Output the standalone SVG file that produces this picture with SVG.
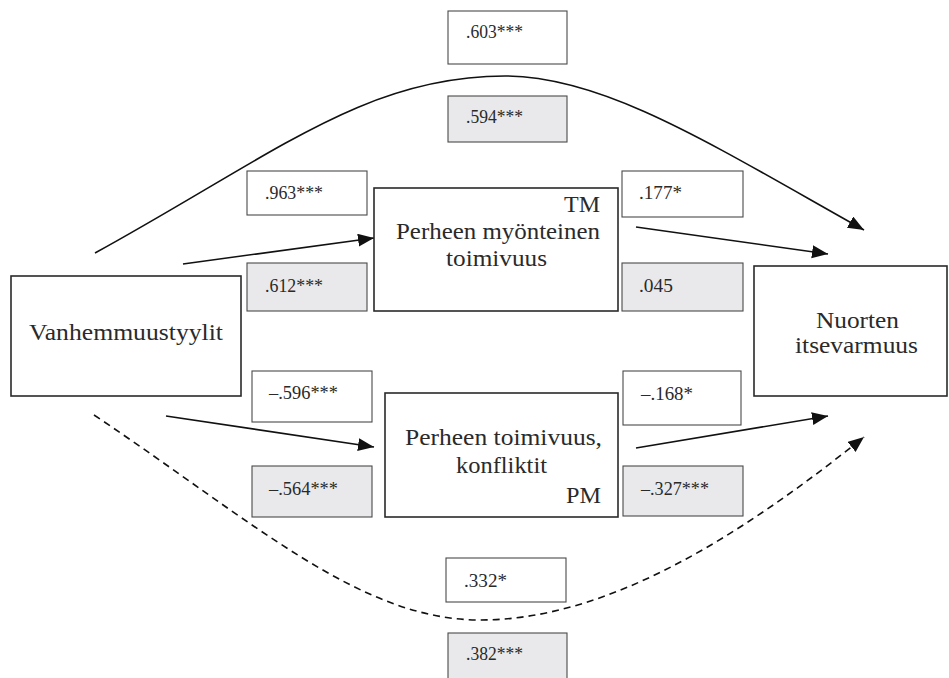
<svg xmlns="http://www.w3.org/2000/svg" width="949" height="678" viewBox="0 0 949 678">
<style>
.node{fill:#fff;stroke:#2a2a2a;stroke-width:1.6}
.lbl{fill:#fff;stroke:#4a4a4a;stroke-width:1.1}
.lbl.g{fill:#e9e9eb}
.t{font-family:"Liberation Serif","Times New Roman",serif;font-size:23px;fill:#2a2a2a}
.s{font-family:"Liberation Serif","Times New Roman",serif;font-size:18.5px;fill:#2a2a2a}
.c{fill:none;stroke:#111;stroke-width:1.6}
.d{stroke-dasharray:7 5}
</style>
<defs>
<marker id="ah" markerUnits="userSpaceOnUse" markerWidth="18" markerHeight="14" refX="16" refY="6.5" orient="auto">
<path d="M0,0 L16,6.5 L0,13 z" fill="#111"/>
</marker>
</defs>
<rect width="949" height="678" fill="#fff"/>
<g id="connectors">
<path class="c" d="M95,253 C275,154 365,76 505,76 C605,76 714,146 864,230" marker-end="url(#ah)"/>
<path class="c d" d="M94,415 C254,522 360,620 480,620 C610,620 744,533 864,437" marker-end="url(#ah)"/>
<path class="c" d="M183,264 L374,238" marker-end="url(#ah)"/>
<path class="c" d="M636,227 L828,254" marker-end="url(#ah)"/>
<path class="c" d="M166,416 L374,447" marker-end="url(#ah)"/>
<path class="c" d="M636,448 L828,416" marker-end="url(#ah)"/>
</g>
<g id="labels">
<rect class="lbl" x="448" y="11" width="119" height="53"/>
<text class="s" x="466" y="38" textLength="57" lengthAdjust="spacingAndGlyphs">.603***</text>
<rect class="lbl g" x="448" y="96" width="119" height="46"/>
<text class="s" x="466" y="123" textLength="57" lengthAdjust="spacingAndGlyphs">.594***</text>
<rect class="lbl" x="247" y="171" width="120" height="44"/>
<text class="s" x="265" y="199" textLength="58" lengthAdjust="spacingAndGlyphs">.963***</text>
<rect class="lbl g" x="247" y="263" width="120" height="48"/>
<text class="s" x="265" y="292" textLength="58" lengthAdjust="spacingAndGlyphs">.612***</text>
<rect class="lbl" x="622" y="171" width="121" height="46"/>
<text class="s" x="639" y="199" textLength="43" lengthAdjust="spacingAndGlyphs">.177*</text>
<rect class="lbl g" x="622" y="263" width="121" height="48"/>
<text class="s" x="639" y="292" textLength="34" lengthAdjust="spacingAndGlyphs">.045</text>
<rect class="lbl" x="252" y="371" width="120" height="51"/>
<text class="s" x="269" y="399" textLength="69" lengthAdjust="spacingAndGlyphs">–.596***</text>
<rect class="lbl g" x="252" y="466" width="120" height="51"/>
<text class="s" x="269" y="495" textLength="69" lengthAdjust="spacingAndGlyphs">–.564***</text>
<rect class="lbl" x="623" y="371" width="118" height="54"/>
<text class="s" x="641" y="400" textLength="52" lengthAdjust="spacingAndGlyphs">–.168*</text>
<rect class="lbl g" x="623" y="466" width="120" height="50"/>
<text class="s" x="641" y="495" textLength="68" lengthAdjust="spacingAndGlyphs">–.327***</text>
<rect class="lbl" x="446" y="558" width="120" height="44"/>
<text class="s" x="464" y="587" textLength="43" lengthAdjust="spacingAndGlyphs">.332*</text>
<rect class="lbl g" x="448" y="633" width="119" height="60"/>
<text class="s" x="466" y="660" textLength="57" lengthAdjust="spacingAndGlyphs">.382***</text>
</g>
<g id="vanhemmuustyylit">
<rect class="node" x="11" y="276" width="230" height="120"/>
<text class="t" x="29" y="340" textLength="194" lengthAdjust="spacingAndGlyphs">Vanhemmuustyylit</text>
</g>
<g id="tm">
<rect class="node" x="374" y="188" width="244" height="123"/>
<text class="t" x="564" y="212" textLength="36" lengthAdjust="spacingAndGlyphs">TM</text>
<text class="t" x="396" y="239" textLength="204" lengthAdjust="spacingAndGlyphs">Perheen myönteinen</text>
<text class="t" x="446" y="266" textLength="101" lengthAdjust="spacingAndGlyphs">toimivuus</text>
</g>
<g id="pm">
<rect class="node" x="385" y="393" width="233" height="124"/>
<text class="t" x="405" y="445" textLength="197" lengthAdjust="spacingAndGlyphs">Perheen toimivuus,</text>
<text class="t" x="456" y="473" textLength="91" lengthAdjust="spacingAndGlyphs">konfliktit</text>
<text class="t" x="566" y="503" textLength="35" lengthAdjust="spacingAndGlyphs">PM</text>
</g>
<g id="nuorten">
<rect class="node" x="754" y="266" width="193" height="130"/>
<text class="t" x="816" y="328" textLength="83" lengthAdjust="spacingAndGlyphs">Nuorten</text>
<text class="t" x="795" y="353" textLength="123" lengthAdjust="spacingAndGlyphs">itsevarmuus</text>
</g>
</svg>
